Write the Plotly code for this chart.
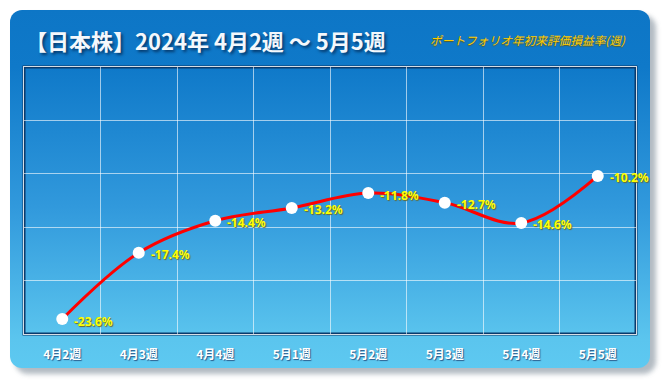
import base64
import plotly.graph_objects as go

weeks = ["4月2週", "4月3週", "4月4週", "5月1週", "5月2週", "5月3週", "5月4週", "5月5週"]
returns_pct = [-23.6, -17.4, -14.4, -13.2, -11.8, -12.7, -14.6, -10.2]
labels = [f"{v:.1f}%" for v in returns_pct]

title_text = "【日本株】2024年 4月2週 ～ 5月5週"
subtitle_text = "ポートフォリオ年初来評価損益率(週)"

W, H = 666, 384

svg = f'''<svg xmlns="http://www.w3.org/2000/svg" width="{W}" height="{H}" viewBox="0 0 {W} {H}">
<defs>
<linearGradient id="g" x1="0" y1="0" x2="0" y2="1">
<stop offset="0" stop-color="#0d76c6"/>
<stop offset="0.16" stop-color="#0f79c9"/>
<stop offset="0.55" stop-color="#3199dc"/>
<stop offset="0.92" stop-color="#5bc5ee"/>
<stop offset="1" stop-color="#5dc9f1"/>
</linearGradient>
<filter id="s" x="-5%" y="-5%" width="115%" height="115%">
<feGaussianBlur stdDeviation="2.5"/>
</filter>
</defs>
<rect x="15" y="15" width="641" height="359" rx="13" fill="#9aa4ae" opacity="0.75" filter="url(#s)"/>
<rect x="10" y="10" width="640" height="358" rx="12" fill="url(#g)"/>
</svg>'''
src = "data:image/svg+xml;base64," + base64.b64encode(svg.encode("utf-8")).decode("ascii")

fig = go.Figure()

fig.add_trace(go.Scatter(
    x=weeks, y=returns_pct,
    mode="lines+markers",
    line=dict(color="#ff0000", width=3, shape="spline", smoothing=1.0),
    marker=dict(color="white", size=12, line=dict(width=0)),
    cliponaxis=False,
    hoverinfo="skip",
))

label_font = dict(family="Noto Sans, Liberation Sans, sans-serif", size=12, color="#ffff00",
                  weight="bold", shadow="1px 1px 1px #6a6a2a")
annotations = [
    dict(x=w, y=v, xref="x", yref="y", text=t, showarrow=False,
         xanchor="left", yanchor="middle", xshift=10, yshift=-2, font=label_font)
    for w, v, t in zip(weeks, returns_pct, labels)
]
annotations += [
    dict(text=title_text, xref="paper", yref="paper", x=-1 / 612, y=1 + 27 / 267,
         xanchor="left", yanchor="middle", showarrow=False,
         font=dict(family="Noto Sans CJK JP", size=22, color="#f4f8fc", weight="bold",
                   shadow="2px 2px 3px #05386a")),
    dict(text=subtitle_text, xref="paper", yref="paper", x=604 / 612, y=1 + 27 / 267,
         xanchor="right", yanchor="middle", showarrow=False,
         font=dict(family="Noto Sans CJK JP", size=11.7, color="#ffcc00", style="italic",
                   shadow="0px 1px 1px #5a5a20")),
]

fig.update_layout(
    width=W, height=H,
    margin=dict(l=24, r=30, t=67, b=50),
    paper_bgcolor="white",
    plot_bgcolor="rgba(0,0,0,0)",
    showlegend=False,
    images=[dict(source=src, xref="paper", yref="paper", x=-24 / 612, y=1 + 67 / 267,
                 sizex=W / 612, sizey=H / 267, xanchor="left", yanchor="top",
                 sizing="stretch", layer="below")],
    shapes=[dict(type="rect", xref="x domain", yref="y domain", x0=0, x1=1, y0=0, y1=1,
                 line=dict(color="#0a3a6c", width=3), fillcolor="rgba(0,0,0,0)", layer="below")],
    annotations=annotations,
)

fig.update_xaxes(
    type="category",
    categoryarray=weeks, categoryorder="array",
    range=[-0.5, len(weeks) - 0.5], autorange=False,
    tickson="boundaries",
    showgrid=True, gridcolor="rgba(255,255,255,0.6)", gridwidth=1,
    showline=True, linecolor="#d6dde4", linewidth=1, mirror=True,
    ticks="", ticklabelstandoff=10,
    tickfont=dict(family="Noto Sans CJK JP", size=12, color="white", weight="bold",
                  shadow="1px 1px 1px #2a5a8a"),
    zeroline=False,
)
fig.update_yaxes(
    range=[-25, 0], dtick=5, autorange=False,
    showgrid=True, gridcolor="rgba(255,255,255,0.6)", gridwidth=1,
    showline=True, linecolor="#d6dde4", linewidth=1, mirror=True,
    showticklabels=False, ticks="", zeroline=False,
)

fig.write_html("out.html", config={"displayModeBar": False},
               post_script="document.body.style.margin='0';")
